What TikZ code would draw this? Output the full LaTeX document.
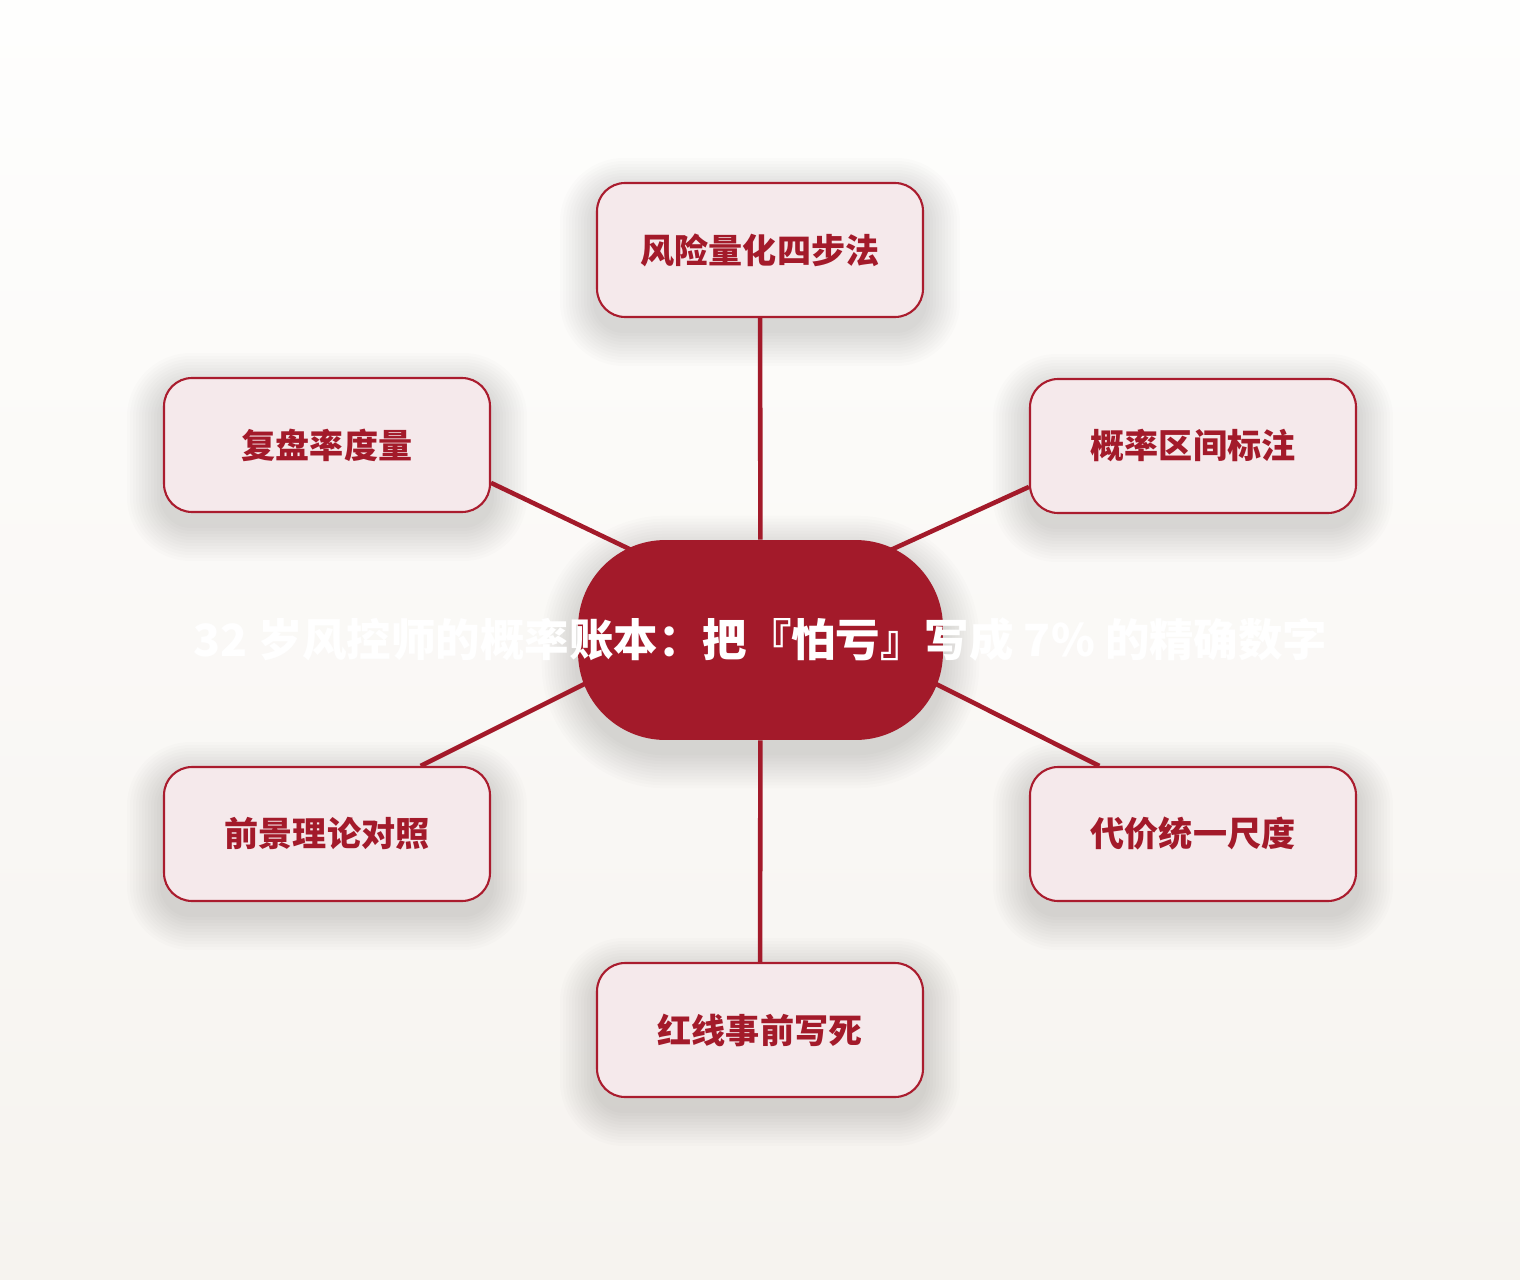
\documentclass[tikz,border=0pt]{standalone}
\usepackage{fontspec}
\newfontfamily\cjk{Noto Sans CJK SC}
\usetikzlibrary{backgrounds}
\definecolor{rouge}{HTML}{A31A2A}
\definecolor{rose}{HTML}{F5E9EB}
\definecolor{bordrouge}{HTML}{AA1C2E}
\definecolor{fondhaut}{HTML}{FEFEFD}
\definecolor{fondbas}{HTML}{F6F3EF}
\pgfdeclarelayer{devant}
\pgfsetlayers{background,main,devant}

\begin{document}
\begin{tikzpicture}[x=0.02cm,y=-0.02cm,
	bulle/.style={draw=bordrouge,line width=1.2pt,fill=rose,rounded corners=0.56cm,minimum width=6.52cm,minimum height=2.68cm,text=rouge,font=\cjk\bfseries\fontsize{19.4pt}{22pt}\selectfont},
	coeurstyle/.style={fill=rouge,rounded corners=1.75cm,minimum width=7.3cm,minimum height=4cm,text=white,font=\cjk\bfseries\fontsize{25.3pt}{28pt}\selectfont},
	ombre/.style={fill=black,opacity=0.011},
	lien/.style={draw=rouge,line width=2.6pt}]
	\begin{pgfonlayer}{background}
	\shade[top color=fondhaut,bottom color=fondbas] (0,0) rectangle (1520,1280);
	\end{pgfonlayer}
	\begin{pgfonlayer}{devant}
	\node[coeurstyle] (coeur) at (760.5,640) {\makebox[0pt]{32 岁风控师的概率账本：把『怕亏』写成 7\% 的精确数字}};
	\foreach \nom/\px/\py/\texte in {haut/760/250/风险量化四步法,hg/327/445/复盘率度量,hd/1193/446/概率区间标注,bg/327/834/前景理论对照,bd/1193/834/代价统一尺度,bas/760/1030/红线事前写死}
	\node[bulle] (\nom) at (\px,\py) {\texte};
	\end{pgfonlayer}
	% ombres douces
	\foreach \nom/\rc in {coeur/1.75cm,haut/0.56cm,hg/0.56cm,hd/0.56cm,bg/0.56cm,bd/0.56cm,bas/0.56cm}
	\foreach \s in {3,6,...,36}
	\fill[ombre,rounded corners={\rc+0.02cm*\s}] ([shift={(-\s,-\s+12)}]\nom.north west) rectangle ([shift={(\s,\s+12)}]\nom.south east);
	% liens vers le coeur
	\draw[lien] (haut) -- (coeur);
	\draw[lien] (coeur) -- (bas);
	\draw[lien] (hg.-13) -- ([shift={(-60,-57)}]coeur.center);
	\draw[lien] (hd.194) -- ([shift={(60,-58)}]coeur.center);
	\draw[lien] (bg.36) -- ([shift={(-60,-14)}]coeur.center);
	\draw[lien] (bd.144) -- ([shift={(60,-14)}]coeur.center);
\end{tikzpicture}
\end{document}
